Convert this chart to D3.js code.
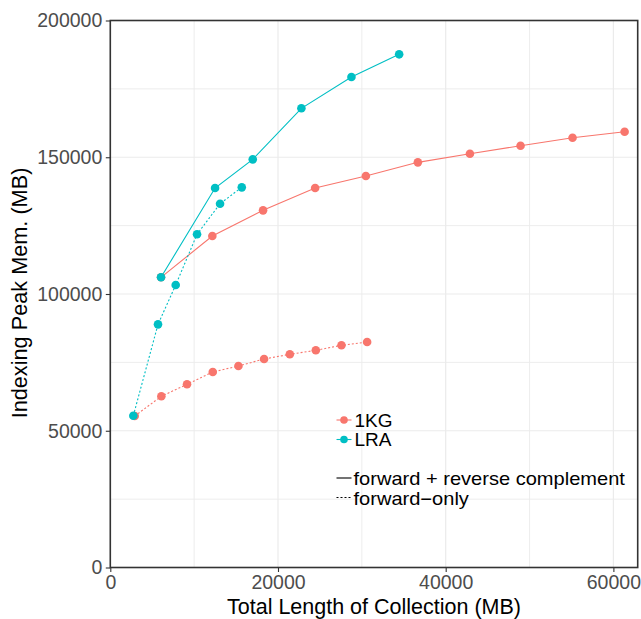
<!DOCTYPE html>
<html><head><meta charset="utf-8">
<script src="https://cdn.jsdelivr.net/npm/d3@7"></script>
<style>
body{margin:0;background:#fff}
text{font-family:"Liberation Sans",Arial,Helvetica,sans-serif}
</style>
</head><body><svg id="c" width="641" height="619"></svg>
<script>
// ---- data ----
const groups = ["1KG", "LRA"];
const strands = ["forward + reverse complement", "forward\u2212only"];
const groupColors = ["#F8766D", "#00BFC4"];

const kgFullX = [6050, 12170, 18220, 24430, 30480, 36680, 42890, 48930, 55130, 61340];
const kgFullY = [106100, 121200, 130590, 138750, 143130, 148140, 151290, 154210, 157130, 159320];
const kgFwdX  = [2910, 6090, 9150, 12220, 15280, 18340, 21410, 24510, 27570, 30630];
const kgFwdY  = [55390, 62590, 66980, 71480, 73670, 76230, 77950, 79410, 81240, 82440];
const lraFullX = [6050, 12495, 16990, 22790, 28760, 34450];
const lraFullY = [106100, 138750, 149230, 167890, 179330, 187630];
const lraFwdX  = [2745, 5690, 7800, 10345, 13090, 15680];
const lraFwdY  = [55500, 88900, 103280, 121820, 133010, 139000];

const xTicks = [0, 20000, 40000, 60000];
const xMinor = [10000, 30000, 50000];
const yTicks = [0, 50000, 100000, 150000, 200000];
const yMinor = [25000, 75000, 125000, 175000];

const series = [
  {group: 0, strand: 0, xs: kgFullX, ys: kgFullY},
  {group: 0, strand: 1, xs: kgFwdX, ys: kgFwdY},
  {group: 1, strand: 0, xs: lraFullX, ys: lraFullY},
  {group: 1, strand: 1, xs: lraFwdX, ys: lraFwdY}
];

// ---- drawing ----
const svg = d3.select("#c");
const L = 110.3, R = 637.7, T = 20.5, B = 567.5;
const x = d3.scaleLinear().domain([0, 62900]).range([L, R]);
const y = d3.scaleLinear().domain([0, 200000]).range([B, T]);
const dashes = [null, "2,2"];

const g = svg.append("g");
// minor grid
g.selectAll(".xmin").data(xMinor).join("line")
  .attr("x1", d => x(d)).attr("x2", d => x(d)).attr("y1", T).attr("y2", B)
  .attr("stroke", "#ebebeb").attr("stroke-width", 0.9);
g.selectAll(".ymin").data(yMinor).join("line")
  .attr("y1", d => y(d)).attr("y2", d => y(d)).attr("x1", L).attr("x2", R)
  .attr("stroke", "#ebebeb").attr("stroke-width", 0.9);
// major grid
g.selectAll(".xmaj").data(xTicks).join("line")
  .attr("x1", d => x(d)).attr("x2", d => x(d)).attr("y1", T).attr("y2", B)
  .attr("stroke", "#ebebeb").attr("stroke-width", 1.2);
g.selectAll(".ymaj").data(yTicks).join("line")
  .attr("y1", d => y(d)).attr("y2", d => y(d)).attr("x1", L).attr("x2", R)
  .attr("stroke", "#ebebeb").attr("stroke-width", 1.2);

// lines
const line = d3.line().x(d => x(d[0])).y(d => y(d[1]));
series.forEach(s => {
  const pts = s.xs.map((v, i) => [v, s.ys[i]]);
  svg.append("path").datum(pts).attr("d", line)
    .attr("fill", "none").attr("stroke", groupColors[s.group])
    .attr("stroke-width", 1.1)
    .attr("stroke-dasharray", dashes[s.strand]);
});
// points
series.forEach(s => {
  const pts = s.xs.map((v, i) => [v, s.ys[i]]);
  svg.append("g").selectAll("circle").data(pts).join("circle")
    .attr("cx", d => x(d[0])).attr("cy", d => y(d[1])).attr("r", 4.3)
    .attr("fill", groupColors[s.group]);
});

// axes
const fmt = d3.format("d");
const ax = svg.append("g").attr("transform", `translate(0,${B})`)
  .call(d3.axisBottom(x).tickValues(xTicks).tickFormat(fmt).tickSize(4.5).tickPadding(3.5));
const ay = svg.append("g").attr("transform", `translate(${L},0)`)
  .call(d3.axisLeft(y).tickValues(yTicks).tickFormat(fmt).tickSize(4.5).tickPadding(3.5));
[ax, ay].forEach(a => {
  a.select(".domain").remove();
  a.selectAll(".tick line").attr("stroke", "#333").attr("stroke-width", 1.1);
  a.selectAll(".tick text").attr("fill", "#4d4d4d").style("font-size", "19.5px")
    .style("font-family", "'Liberation Sans',Arial,sans-serif");
});

// panel border
svg.append("rect").attr("x", L).attr("y", T).attr("width", R - L).attr("height", B - T)
  .attr("fill", "none").attr("stroke", "#333").attr("stroke-width", 1.6);

// titles
svg.append("text").attr("x", (L + R) / 2).attr("y", 614).attr("text-anchor", "middle")
  .style("font-size", "21.5px").attr("fill", "#000").text("Total Length of Collection (MB)");
svg.append("text").attr("transform", `translate(26.5,${(T + B) / 2 - 1}) rotate(-90)`)
  .attr("text-anchor", "middle").style("font-size", "21.7px").attr("fill", "#000")
  .text("Indexing Peak Mem. (MB)");

// legend
const lg = svg.append("g");
const colRows = [420, 439.5];
groups.forEach((name, i) => {
  const yy = colRows[i];
  lg.append("line").attr("x1", 336.5).attr("x2", 351.5).attr("y1", yy).attr("y2", yy)
    .attr("stroke", groupColors[i]).attr("stroke-width", 1.1);
  lg.append("circle").attr("cx", 344).attr("cy", yy).attr("r", 3.8).attr("fill", groupColors[i]);
  lg.append("text").attr("x", 354.5).attr("y", yy + 6.8).style("font-size", "19px")
    .attr("fill", "#000").text(name);
});
const ltRows = [478, 497.5];
const ltBase = [484.5, 505];
strands.forEach((name, i) => {
  const yy = ltRows[i];
  lg.append("line").attr("x1", 336.5).attr("x2", 351.5).attr("y1", yy).attr("y2", yy)
    .attr("stroke", "#000").attr("stroke-width", 1.1)
    .attr("stroke-dasharray", dashes[i]);
  lg.append("text").attr("transform", `translate(353.5,${ltBase[i]}) scale(1.115,1)`)
    .style("font-size", "18px").attr("fill", "#000").text(name);
});
</script>
</body></html>
